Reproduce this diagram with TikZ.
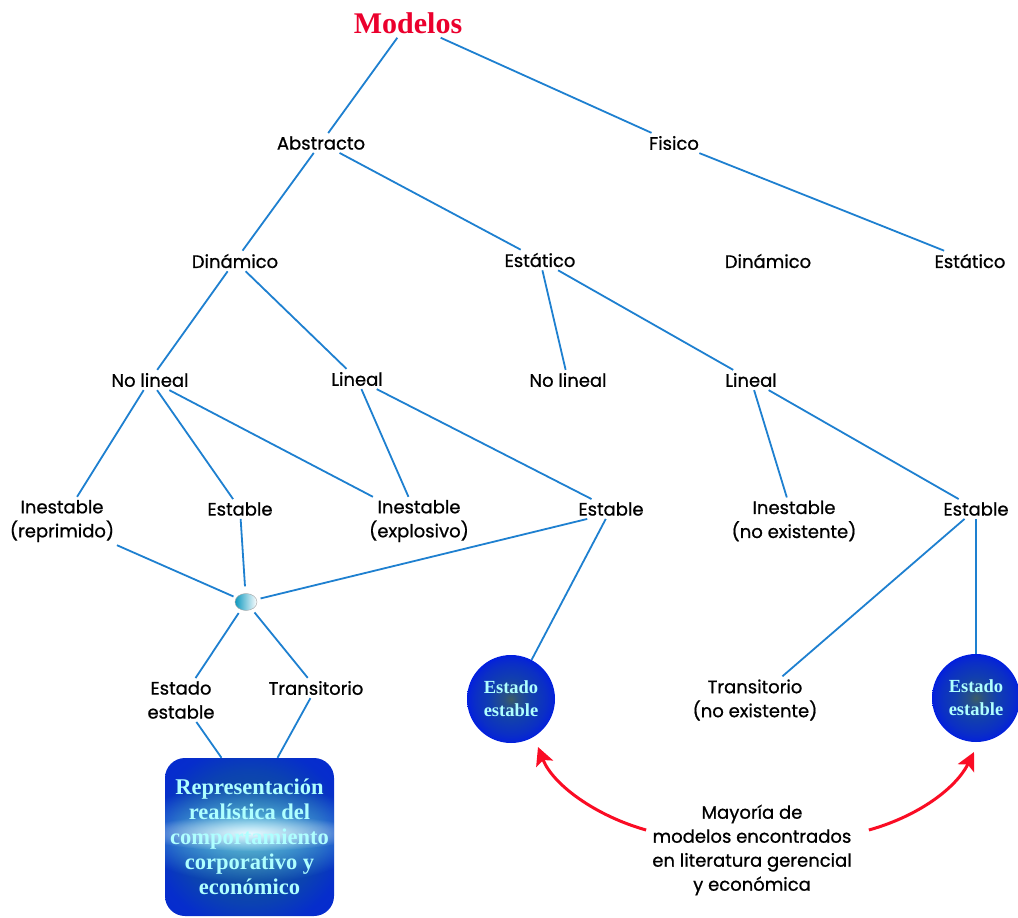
\documentclass[tikz,border=0pt]{standalone}
\usepackage{fontspec}
\usetikzlibrary{arrows.meta,shapes.geometric,fadings}
\newfontfamily\labfont{Poppins}[FakeBold=0.8]
\newfontfamily\serifbold{Liberation Serif Bold}
\definecolor{linkblue}{RGB}{30,128,208}
\definecolor{arrowred}{RGB}{250,12,36}
\definecolor{titlered}{RGB}{235,0,45}
\definecolor{glowcyan}{RGB}{175,255,255}
\tikzfading[name=softglow, inner color=transparent!0, outer color=transparent!100]
% sphere body: light core, saturated blue, dark rim
\pgfdeclareradialshading{spherefill}{\pgfpoint{0bp}{0bp}}{%
  color(0bp)=(rgb:red,0.6;green,0.92;blue,1);
  color(4bp)=(rgb:red,0.3;green,0.6;blue,1);
  color(12bp)=(rgb:red,0.1;green,0.36;blue,1);
  color(20bp)=(rgb:red,0.05;green,0.22;blue,0.92);
  color(23.5bp)=(rgb:red,0.02;green,0.12;blue,0.68);
  color(25bp)=(rgb:red,0;green,0.06;blue,0.45);
  color(50bp)=(rgb:red,0;green,0.06;blue,0.45)}
% panel body: bright blue core darkening towards the frame
\pgfdeclareradialshading{panelfill}{\pgfpoint{0bp}{0bp}}{%
  color(0bp)=(rgb:red,0.3;green,0.8;blue,1);
  color(12bp)=(rgb:red,0.1;green,0.5;blue,1);
  color(21bp)=(rgb:red,0.06;green,0.36;blue,0.97);
  color(29bp)=(rgb:red,0.02;green,0.16;blue,0.72);
  color(50bp)=(rgb:red,0.01;green,0.08;blue,0.5)}
\tikzset{
  lbl/.style={font=\labfont\fontsize{18}{24}\selectfont, align=center, inner sep=3pt, text=black},
  ttl/.style={font=\serifbold\fontsize{30}{32}\selectfont, text=titlered, inner sep=4pt},
  link/.style={draw=linkblue, line width=1.8pt},
  redarrow/.style={draw=arrowred, line width=3pt, -{Stealth[length=18pt,width=18pt,inset=4pt]}},
  hub/.style={ellipse, minimum width=22pt, minimum height=17pt, inner sep=0pt, draw=black!35, line width=0.4pt,
    left color={rgb,1:red,0.05;green,0.6;blue,0.75}, right color=white},
  sphere/.style={circle, minimum size=88pt, inner sep=0pt, shading=spherefill,
    font=\serifbold\fontsize{18.5}{23}\selectfont, text=glowcyan, align=center},
  bigbox/.style={rounded corners=20pt, minimum width=169pt, minimum height=158pt, inner sep=0pt,
    font=\serifbold\fontsize{22.5}{25}\selectfont, text=glowcyan, align=center,
    path picture={
      \shade[shading=panelfill]
        (path picture bounding box.south west) rectangle (path picture bounding box.north east);
      \fill[cyan!60!white, path fading=softglow]
        ([yshift=4pt]path picture bounding box.center) ellipse[x radius=120pt, y radius=50pt];
      \fill[white, opacity=0.85, path fading=softglow]
        ([yshift=4pt]path picture bounding box.center) ellipse[x radius=110pt, y radius=18pt];
    }},
}
\begin{document}
\begin{tikzpicture}[x=1pt,y=-1pt]
  \fill[white] (0,0) rectangle (1018,918);
  \useasboundingbox (0,0) rectangle (1018,918);

  % tree nodes
  \node[ttl] (mod) at (408,23) {Modelos};
  \node[lbl] (abs) at (321,143) {Abstracto};
  \node[lbl] (fis) at (674,143) {Fisico};
  \node[lbl] (dinA) at (235,261) {Dinámico};
  \node[lbl] (estA) at (540,260) {Estático};
  \node[lbl] (dinF) at (768,261) {Dinámico};
  \node[lbl] (estF) at (970,261) {Estático};
  \node[lbl] (nlD) at (150,380) {No lineal};
  \node[lbl] (linD) at (357,379) {Lineal};
  \node[lbl] (nlE) at (568,380) {No lineal};
  \node[lbl] (linE) at (751,380) {Lineal};
  \node[lbl] (inR) at (62,521) {Inestable\\(reprimido)};
  \node[lbl] (esN) at (240,509) {Estable};
  \node[lbl] (inX) at (419,521) {Inestable\\(explosivo)};
  \node[lbl] (esL) at (611,509) {Estable};
  \node[lbl] (inN) at (794,521) {Inestable\\(no existente)};
  \node[lbl] (esR) at (976,509) {Estable};
  \node[hub] (hub) at (246,602) {};
  \node[lbl] (ee) at (181,700) {Estado\\estable};
  \node[lbl] (tr) at (316,688) {Transitorio};
  \node[sphere] (s1) at (511,699) {Estado\\estable};
  \node[lbl] (trN) at (755,700) {Transitorio\\(no existente)};
  \node[sphere] (s2) at (976,698) {Estado\\estable};
  \node[bigbox] (bx) at (249.5,837) {Representación\\realística del\\comportamiento\\corporativo y\\económico};
  \node[lbl] (may) at (752,850) {Mayoría de\\modelos encontrados\\en literatura gerencial\\y económica};

  % connectors
  \draw[link] (mod) -- (abs);
  \draw[link] (mod) -- (fis);
  \draw[link] (abs) -- (dinA);
  \draw[link] (abs) -- (estA);
  \draw[link] (fis) -- (estF);
  \draw[link] (dinA) -- (nlD);
  \draw[link] (dinA) -- (linD);
  \draw[link] (estA) -- (nlE);
  \draw[link] (estA) -- (linE);
  \draw[link] (nlD) -- (inR);
  \draw[link] (nlD) -- (esN);
  \draw[link] (nlD) -- (inX);
  \draw[link] (linD) -- (inX);
  \draw[link] (linD) -- (esL);
  \draw[link] (linE) -- (inN);
  \draw[link] (linE) -- (esR);
  \draw[link, shorten >=3pt] (inR) -- (hub);
  \draw[link, shorten >=7pt] (esN) -- (hub);
  \draw[link, shorten >=4pt] ([xshift=12pt]esL.south west) -- (hub);
  \draw[link] (esL) -- (s1);
  \draw[link] (esR) -- (trN);
  \draw[link] (esR) -- (s2);
  \draw[link, shorten <=4pt] (hub) -- (ee);
  \draw[link, shorten <=4pt] (hub) -- (tr);
  \draw[link] (ee) -- ([xshift=-28pt]bx.north);
  \draw[link] (tr) -- ([xshift=28pt]bx.north);

  % red pointers
  \draw[redarrow] ([xshift=-3pt,yshift=20pt]may.west) .. controls +(-50,-14) and +(15,38) .. ([xshift=27pt,yshift=-48pt]s1.center);
  \draw[redarrow] ([xshift=14pt,yshift=20pt]may.east) .. controls +(50,-14) and +(-18,36) .. ([xshift=-2pt,yshift=-54pt]s2.center);
\end{tikzpicture}
\end{document}
